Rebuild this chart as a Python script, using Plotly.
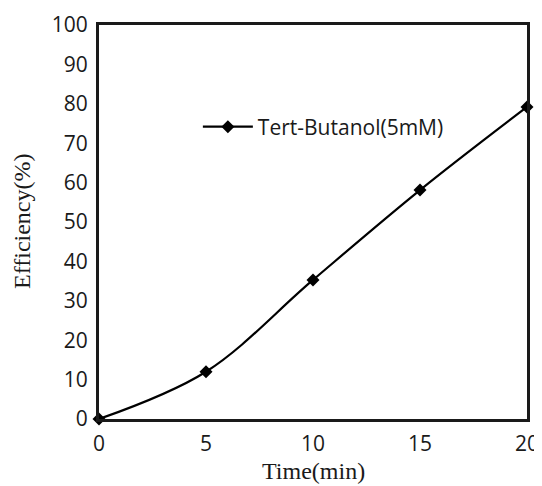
import plotly.graph_objects as go

time_min = [0, 5, 10, 15, 20]
efficiency = [0, 12, 35.3, 58.1, 79.2]
series_name = "Tert-Butanol(5mM)"
x_title = "Time(min)"
y_title = "Efficiency(%)"

fig = go.Figure()
fig.add_trace(go.Scatter(
    x=time_min, y=efficiency, mode="lines+markers", name=series_name,
    line=dict(color="black", width=2.2, shape="spline", smoothing=1.0),
    marker=dict(symbol="diamond", size=10, color="black"),
    showlegend=True, cliponaxis=False,
))

tick_font = dict(family="Open Sans, Liberation Sans, sans-serif", size=21, color="#1a1a1a")
title_font = dict(family="Liberation Serif, Times New Roman, serif", size=24, color="#1a1a1a")
axis_common = dict(
    showline=True, linecolor="#1a1a1a", linewidth=3, mirror=True,
    showgrid=False, zeroline=False, automargin=False,
    ticks="outside", ticklen=4, tickcolor="rgba(0,0,0,0)",
    tickfont=tick_font,
)
# page body has an 8px default margin, so the figure is 8px smaller
fig.update_layout(
    width=534, height=478,
    margin=dict(l=91, r=15, t=17, b=67),
    paper_bgcolor="white", plot_bgcolor="white",
    xaxis=dict(range=[0, 20], tickvals=[0, 5, 10, 15, 20], **axis_common),
    yaxis=dict(range=[0, 100], tickvals=list(range(0, 101, 10)), **axis_common),
    legend=dict(x=0.231, y=0.741, xanchor="left", yanchor="middle",
                bgcolor="rgba(0,0,0,0)", itemwidth=50,
                font=dict(family="Open Sans, Liberation Sans, sans-serif", size=21, color="#1a1a1a")),
    annotations=[
        dict(text=x_title, xref="paper", yref="paper", x=0.5, y=0, yshift=-52,
             xanchor="center", yanchor="middle", showarrow=False, font=title_font),
        dict(text=y_title, xref="paper", yref="paper", x=0, y=0.5, xshift=-77,
             xanchor="center", yanchor="middle", showarrow=False, textangle=-90, font=title_font),
    ],
)
fig.write_html("out.html")
